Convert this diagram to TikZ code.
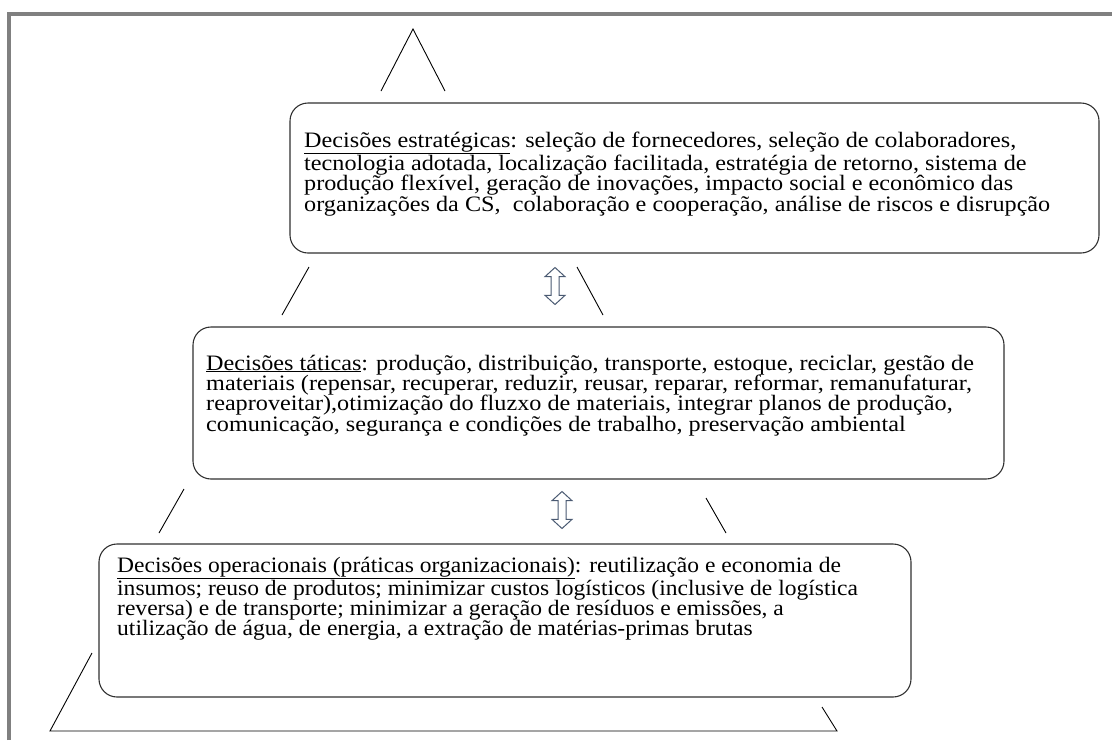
\documentclass[tikz,border=0pt]{standalone}
\usepackage{fontspec}
\setmainfont{Liberation Serif}[FakeStretch=1.1]
\newfontfamily\opfont{Liberation Serif}[FakeStretch=1.07]
\usetikzlibrary{shapes.arrows}
\definecolor{framegray}{HTML}{808080}
\definecolor{arrowblue}{HTML}{4A5A72}
\definecolor{boxline}{HTML}{303030}
\tikzset{
  frameline/.style={draw=framegray, line width=3.5pt},
  pyrline/.style={draw=black, line width=0.9pt},
  levelbox/.style={draw=boxline, line width=1.1pt, rounded corners=18pt},
  leveltext/.style={anchor=base west, inner sep=0pt, font=\fontsize{22}{20.4}\selectfont},
  dblarrow/.style={shape=double arrow, draw=arrowblue, fill=white, line width=1pt,
    rotate=90, minimum height=37pt, inner sep=3.5pt,
    double arrow head extend=6pt, double arrow tip angle=95}
}
\begin{document}
\begin{tikzpicture}[x=1pt, y=-1pt]
\useasboundingbox (0,0) rectangle (1112,740);
% frame
\draw[frameline] (9,740) -- (9,14) -- (1112,14);
% pyramid pieces
\coordinate (apex) at (413,29);
\coordinate (t1l) at (381,91);
\coordinate (t1r) at (445,91);
\draw[pyrline] (t1l) -- (apex) -- (t1r);
\coordinate (m1a) at (309,267); \coordinate (m1b) at (282,315);
\coordinate (m2a) at (577,267); \coordinate (m2b) at (603,315);
\draw[pyrline] (m1a) -- (m1b);
\draw[pyrline] (m2a) -- (m2b);
\coordinate (n1a) at (184,489); \coordinate (n1b) at (159,533);
\coordinate (n2a) at (706,498); \coordinate (n2b) at (726,533);
\draw[pyrline] (n1a) -- (n1b);
\draw[pyrline] (n2a) -- (n2b);
\coordinate (b1a) at (92,653); \coordinate (bl) at (50,731);
\coordinate (br) at (837,731); \coordinate (b2a) at (822,707);
\draw[pyrline] (b1a) -- (bl) -- (br) -- (b2a);
% boxes
\draw[levelbox] (290,103) rectangle (1099,253);
\draw[levelbox] (193,327) rectangle (1004,479);
\draw[levelbox] (99,544) rectangle (911,697);
% texts
\node[leveltext] (strat) at (304,147) {\parbox[t]{790pt}{\raggedright
\underline{Decisões estratégicas}: seleção de fornecedores, seleção de colaboradores,\\
tecnologia adotada, localização facilitada, estratégia de retorno, sistema de\\
produção flexível, geração de inovações, impacto social e econômico das\\
organizações da CS,\ \ colaboração e cooperação, análise de riscos e disrupção}};
\node[leveltext] (tat) at (206,370) {\parbox[t]{790pt}{\raggedright
\underline{Decisões táticas}: produção, distribuição, transporte, estoque, reciclar, gestão de\\
materiais (repensar, recuperar, reduzir, reusar, reparar, reformar, remanufaturar,\\
reaproveitar),otimização do fluzxo de materiais, integrar planos de produção,\\
comunicação, segurança e condições de trabalho, preservação ambiental}};
\node[leveltext] (oper) at (117,572) {\parbox[t]{790pt}{\opfont\raggedright
\underline{Decisões operacionais (práticas organizacionais)}: reutilização e economia de\\
insumos; reuso de produtos; minimizar custos logísticos (inclusive de logística\\
reversa) e de transporte; minimizar a geração de resíduos e emissões, a\\
utilização de água, de energia, a extração de matérias-primas brutas}};
% arrows
\node[dblarrow] (arr1) at (555,286) {};
\node[dblarrow] (arr2) at (562,510) {};
\end{tikzpicture}
\end{document}
